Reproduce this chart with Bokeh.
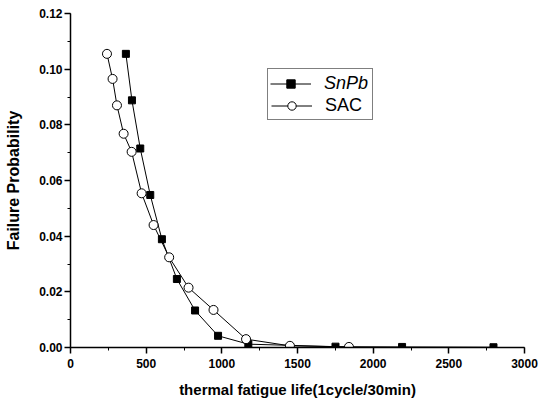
from bokeh.plotting import figure
from bokeh.models import Range1d, Legend, LegendItem, SingleIntervalTicker, CustomJSTickFormatter
from bokeh.embed import file_html
from bokeh.resources import INLINE

snpb_x = [366, 406, 461, 527, 604, 703, 823, 975, 1175, 1751, 2191, 2795]
snpb_y = [0.1055, 0.0888, 0.0715, 0.0548, 0.0389, 0.0246, 0.0133, 0.0042, 0.0012, 0.0003, 0.0002, 0.0001]
sac_x = [241, 278, 307, 351, 404, 470, 549, 652, 780, 945, 1160, 1450, 1840]
sac_y = [0.1055, 0.0965, 0.0870, 0.0768, 0.0703, 0.0554, 0.0440, 0.0324, 0.0215, 0.0135, 0.0030, 0.0006, 0.0002]

FONT = "Liberation Sans"

p = figure(width=540, height=400, output_backend="svg", toolbar_location=None,
           x_range=Range1d(0, 3000), y_range=Range1d(0, 0.12),
           min_border_left=70, min_border_right=16, min_border_top=13, min_border_bottom=52)
p.outline_line_color = None
p.xgrid.visible = False
p.ygrid.visible = False

l1 = p.line(snpb_x, snpb_y, line_color="black", line_width=1)
m1 = p.scatter(snpb_x, snpb_y, marker="square", size=7, fill_color="black", line_color="black")
l2 = p.line(sac_x, sac_y, line_color="black", line_width=1)
m2 = p.scatter(sac_x, sac_y, marker="circle", size=9, fill_color="white", line_color="black", line_width=1)

p.xaxis.ticker = SingleIntervalTicker(interval=500, num_minor_ticks=2)
p.yaxis.ticker = SingleIntervalTicker(interval=0.02, num_minor_ticks=2)
p.yaxis.formatter = CustomJSTickFormatter(code="return tick.toFixed(2);")

for ax in (p.xaxis, p.yaxis):
    ax.axis_line_width = 1.5
    ax.axis_line_color = "black"
    ax.major_tick_line_width = 1.5
    ax.minor_tick_line_width = 1
    ax.major_tick_out = 6
    ax.major_tick_in = 0
    ax.minor_tick_out = 3
    ax.minor_tick_in = 0
    ax.major_label_text_font = FONT
    ax.major_label_text_font_style = "bold"
    ax.major_label_text_font_size = "12px"
    ax.major_label_text_color = "black"
    ax.axis_label_text_font = FONT
    ax.axis_label_text_font_style = "bold"
    ax.axis_label_text_color = "black"

p.xaxis.axis_label = "thermal fatigue life(1cycle/30min)"
p.yaxis.axis_label = "Failure Probability"
p.xaxis.axis_label_text_font_size = "15px"
p.yaxis.axis_label_text_font_size = "16px"
p.xaxis.major_label_standoff = 5
p.xaxis.axis_label_standoff = 10
p.yaxis.major_label_standoff = 2
p.yaxis.axis_label_standoff = 14

def style_legend(lg, pad):
    lg.label_text_font = FONT
    lg.label_text_font_size = "18px"
    lg.label_text_color = "black"
    lg.glyph_width = 41
    lg.glyph_height = 21
    lg.label_height = 21
    lg.spacing = 2
    lg.padding = pad
    lg.margin = 0
    lg.label_standoff = 13
    lg.background_fill_color = "white"
    lg.background_fill_alpha = 1

legend = Legend(items=[LegendItem(label="SnPb", renderers=[l1, m1]),
                       LegendItem(label="SAC", renderers=[l2, m2])],
                location=(197, 227))
style_legend(legend, 3)
legend.border_line_color = "black"
legend.border_line_width = 1
p.add_layout(legend)

legend_it = Legend(items=[LegendItem(label="SnPb", renderers=[l1, m1])],
                   location=(199, 252))
style_legend(legend_it, 1)
legend_it.label_text_font_style = "italic"
legend_it.border_line_alpha = 0
p.add_layout(legend_it)

open("out.html", "w").write(file_html(p, INLINE))
